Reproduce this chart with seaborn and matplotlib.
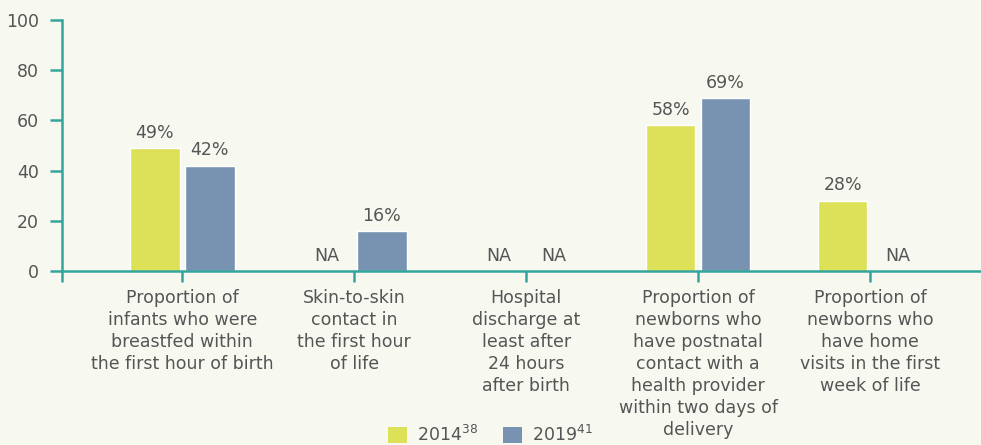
import matplotlib
matplotlib.use("Agg")
import matplotlib.pyplot as plt
from matplotlib.patches import Patch
import seaborn as sns
import pandas as pd
import numpy as np

categories = [
    "Proportion of\ninfants who were\nbreastfed within\nthe first hour of birth",
    "Skin-to-skin\ncontact in\nthe first hour\nof life",
    "Hospital\ndischarge at\nleast after\n24 hours\nafter birth",
    "Proportion of\nnewborns who\nhave postnatal\ncontact with a\nhealth provider\nwithin two days of\ndelivery",
    "Proportion of\nnewborns who\nhave home\nvisits in the first\nweek of life",
]
years = ["2014", "2019"]
legend_labels = ["2014$\\mathregular{^{38}}$", "2019$\\mathregular{^{41}}$"]
values_2014 = [49, np.nan, np.nan, 58, 28]
values_2019 = [42, 16, np.nan, 69, np.nan]

BG = "#f7f9f1"
TEAL = "#34a59b"
YELLOW = "#dce157"
BLUE = "#7893b2"
TEXT = "#555555"
FS = 12.5

sns.set_theme(style="white")
plt.rcParams["font.family"] = ["DejaVu Sans"]

df = pd.DataFrame({
    "category": categories * 2,
    "year": [years[0]] * len(categories) + [years[1]] * len(categories),
    "value": values_2014 + values_2019,
})

fig = plt.figure(figsize=(9.81, 4.45), dpi=100, facecolor=BG)
ax = fig.add_axes([62 / 981, 174 / 445, (981 - 62) / 981, 251 / 445])
ax.set_facecolor(BG)

sns.barplot(data=df, x="category", y="value", hue="year", order=categories,
            hue_order=years, palette=[YELLOW, BLUE], width=0.64, gap=0.1,
            saturation=1, errorbar=None, ax=ax, legend=False)

ax.set_ylim(0, 100)
ax.set_xlim(-0.70, 4.645)
ax.set_yticks([0, 20, 40, 60, 80, 100])
ax.set_xticks([-0.70, 0, 1, 2, 3, 4])
ax.set_xticklabels([""] + categories, fontsize=FS, color=TEXT, linespacing=1.28)
ax.tick_params(axis="y", labelsize=FS, labelcolor=TEXT, color=TEAL, length=8.5,
               width=1.8, left=True, pad=8)
ax.tick_params(axis="x", color=TEAL, length=8, width=1.8, bottom=True, pad=5)
ax.set_xlabel("")
ax.set_ylabel("")
for s in ["top", "right"]:
    ax.spines[s].set_visible(False)
for s in ["left", "bottom"]:
    ax.spines[s].set_color(TEAL)
    ax.spines[s].set_linewidth(1.8)

for vals, off in [(values_2014, -0.16), (values_2019, 0.16)]:
    for i, v in enumerate(vals):
        if np.isnan(v):
            ax.text(i + off, 2.5, "NA", ha="center", va="bottom", fontsize=FS, color=TEXT)
        else:
            ax.text(i + off, v + 2.5, f"{int(v)}%", ha="center", va="bottom",
                    fontsize=FS, color=TEXT)

handles = [Patch(facecolor=YELLOW, edgecolor="none"), Patch(facecolor=BLUE, edgecolor="none")]
fig.legend(handles, legend_labels, loc="lower center", bbox_to_anchor=(0.5, -0.035),
           ncol=2, frameon=False, fontsize=FS, handlelength=1.1, handleheight=1.0,
           columnspacing=1.4, handletextpad=0.6, labelcolor=TEXT)

fig.savefig("out.png", dpi=100, facecolor=BG)
